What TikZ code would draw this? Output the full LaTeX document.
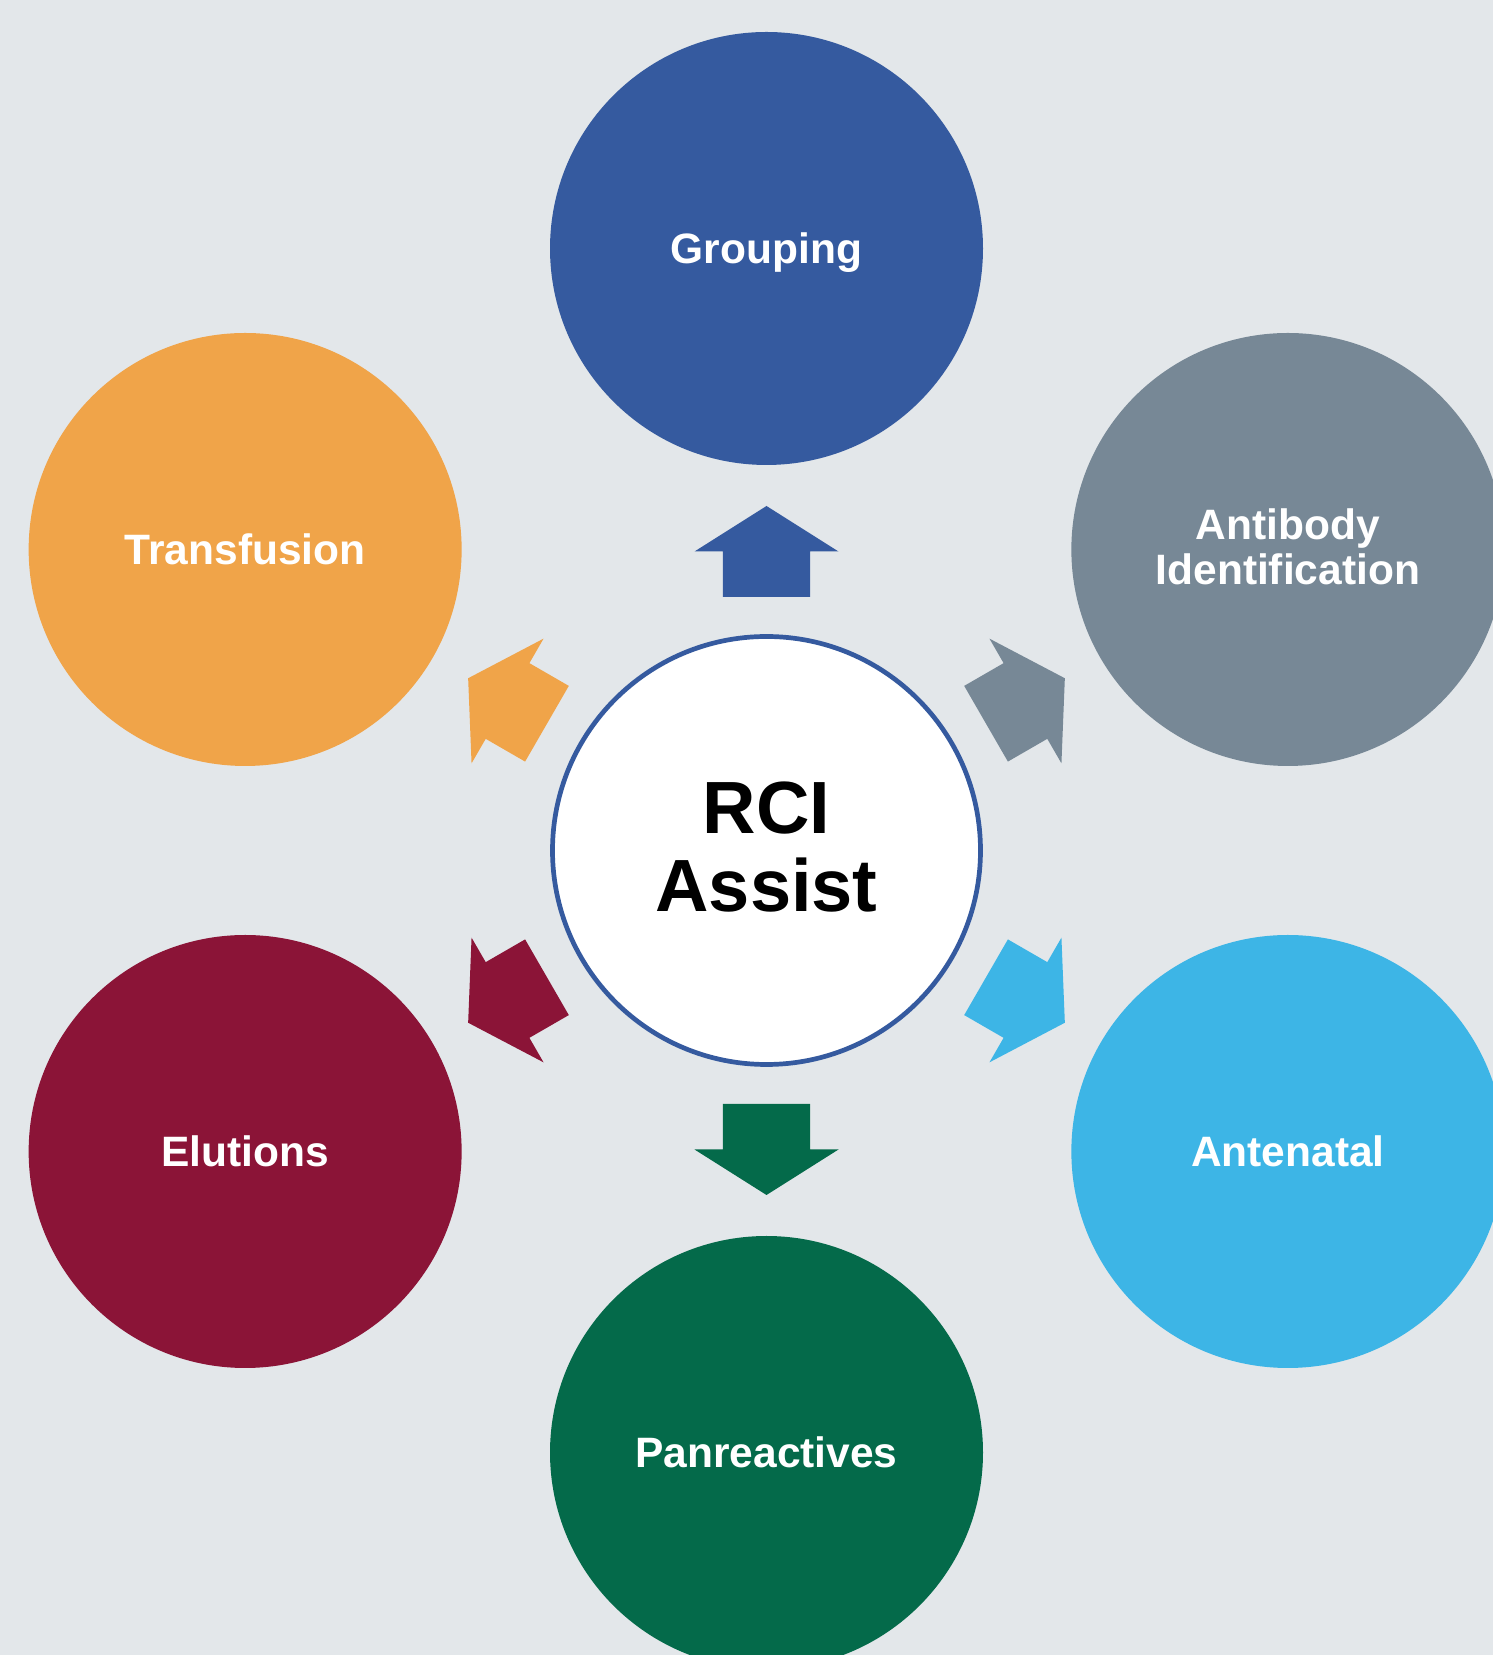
\documentclass[tikz,border=0pt]{standalone}
\usepackage{fontspec}
\setmainfont{Liberation Sans}
\definecolor{bgc}{HTML}{E3E7EA}
\definecolor{cgroup}{HTML}{355A9F}
\definecolor{canti}{HTML}{778896}
\definecolor{ctrans}{HTML}{F0A449}
\definecolor{celut}{HTML}{8B1437}
\definecolor{cante}{HTML}{3DB5E6}
\definecolor{cpan}{HTML}{046A4A}
\begin{document}
\begin{tikzpicture}[x=1pt,y=1pt,
  hub/.style={circle, fill=#1, minimum size=433pt, inner sep=0pt},
  lbl/.style={text=white, font=\bfseries\fontsize{42.5}{45}\selectfont, align=center, inner sep=0pt},
  onelbl/.style={lbl, text height=30.4pt, text depth=0pt},
  blockarr/.pic={\fill[pic actions] (253.5,-43.7) -- (299,-43.7) -- (299,-72) -- (344.5,0) -- (299,72) -- (299,43.7) -- (253.5,43.7) -- cycle;}
]
\useasboundingbox (0,0) rectangle (1493,1655);
\clip (0,0) rectangle (1493,1655);
\fill[bgc] (0,0) rectangle (1493,1655);
\coordinate (C) at (766.5,804.5);

% outer circles
\node[hub=cgroup] (grp) at ([shift={(90:602)}]C) {};
\node[hub=canti]  (ant) at ([shift={(30:602)}]C) {};
\node[hub=cante]  (ante) at ([shift={(-30:602)}]C) {};
\node[hub=cpan]   (pan) at ([shift={(-90:602)}]C) {};
\node[hub=celut]  (elu) at ([shift={(-150:602)}]C) {};
\node[hub=ctrans] (tra) at ([shift={(150:602)}]C) {};

\node[onelbl] (grpT) at (grp) {Grouping};
\node[lbl, yshift=3pt] (antT) at (ant) {Antibody\\Identification};
\node[onelbl] (anteT) at (ante) {Antenatal};
\node[onelbl] (panT) at (pan) {Panreactives};
\node[onelbl] (eluT) at (elu) {Elutions};
\node[onelbl] (traT) at (tra) {Transfusion};

% center
\node[circle, draw=cgroup, line width=4.7pt, fill=white, minimum size=428pt, inner sep=0pt] (hubc) at (C) {};
\node[font=\bfseries\fontsize{74}{77.5}\selectfont, align=center, inner sep=0pt, yshift=3.5pt] (hubT) at (C) {RCI\\Assist};

% block arrows
\pic[fill=cgroup, rotate=90] at (C) {blockarr};
\pic[fill=canti, rotate=30] at (C) {blockarr};
\pic[fill=cante, rotate=-30] at (C) {blockarr};
\pic[fill=cpan, rotate=-90] at (C) {blockarr};
\pic[fill=celut, rotate=-150] at (C) {blockarr};
\pic[fill=ctrans, rotate=150] at (C) {blockarr};
\end{tikzpicture}
\end{document}
